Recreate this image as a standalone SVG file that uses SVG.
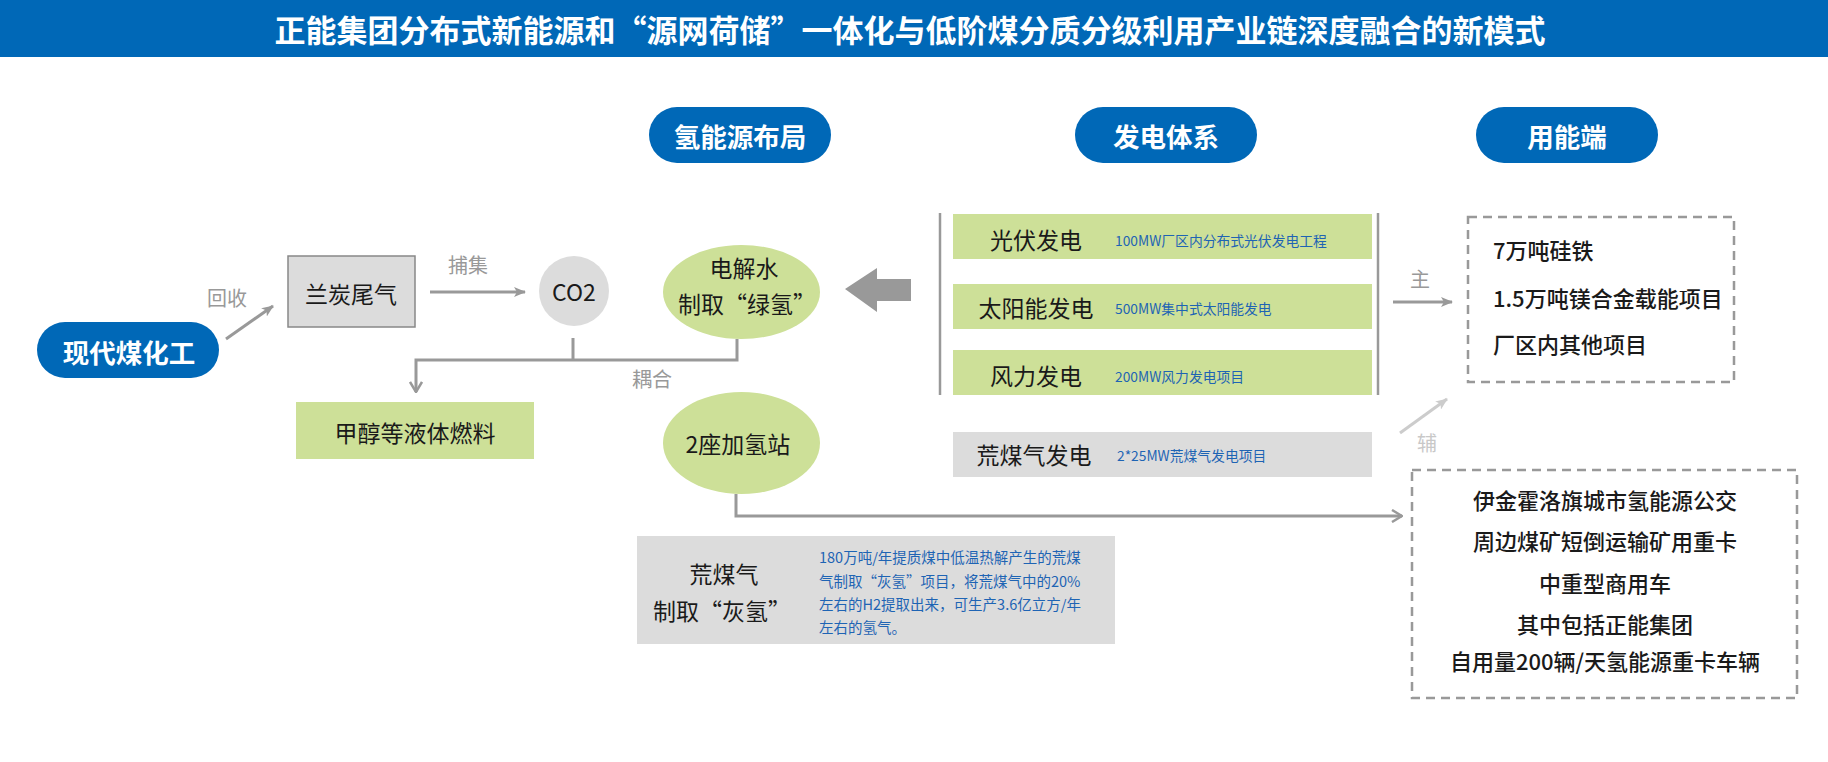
<svg xmlns="http://www.w3.org/2000/svg" width="1828" height="762" viewBox="0 0 1828 762">
<defs>
<style>
text{font-family:"Noto Sans CJK SC","Liberation Sans",sans-serif;dominant-baseline:central;}
.pill{fill:#0068b7;}
.pt{fill:#fff;font-weight:bold;font-size:26.5px;text-anchor:middle;}
.k{fill:#1a1a1a;font-size:23px;}
.c{text-anchor:middle;}
.lbl{fill:#999;font-size:20px;text-anchor:middle;}
.blue{fill:#1e64b4;font-size:13.8px;}
.bl2{fill:#1e64b4;font-size:14.5px;}
.green{fill:#cde098;}
.grey{fill:#dcdcdc;}
.ln{fill:none;stroke:#999;stroke-width:3;}
.dash{fill:none;stroke:#999;stroke-width:2.5;stroke-dasharray:9 6;}
.u{fill:#1a1a1a;font-size:22px;font-weight:500;}
</style>
<marker id="ah" viewBox="0 0 12 10" refX="11" refY="5" markerWidth="12" markerHeight="10" markerUnits="userSpaceOnUse" orient="auto"><path d="M0,0 L12,5 L0,10 L3,5 Z" fill="#999"/></marker>
<marker id="ahL" viewBox="0 0 12 10" refX="11" refY="5" markerWidth="12" markerHeight="10" markerUnits="userSpaceOnUse" orient="auto"><path d="M0,0 L12,5 L0,10 L3,5 Z" fill="#ccc"/></marker>
<marker id="ao" viewBox="0 0 12 14" refX="11" refY="7" markerWidth="12" markerHeight="14" markerUnits="userSpaceOnUse" orient="auto"><path d="M1,1 L11,7 L1,13" fill="none" stroke="#999" stroke-width="2.5"/></marker>
</defs>
<rect width="1828" height="762" fill="#fff"/>
<g id="title">
<rect x="0" y="0" width="1828" height="57" fill="#0068b7"/>
<text x="910" y="28" fill="#fff" font-size="31" font-weight="bold" text-anchor="middle">正能集团分布式新能源和“源网荷储”一体化与低阶煤分质分级利用产业链深度融合的新模式</text>
</g>
<g id="hdr-h2"><rect class="pill" x="649" y="107" width="182" height="56" rx="28"/><text class="pt" x="740" y="135">氢能源布局</text></g>
<g id="hdr-power"><rect class="pill" x="1075" y="107" width="182" height="56" rx="28"/><text class="pt" x="1166" y="135">发电体系</text></g>
<g id="hdr-use"><rect class="pill" x="1476" y="107" width="182" height="56" rx="28"/><text class="pt" x="1567" y="135">用能端</text></g>
<g id="coal-chem"><rect class="pill" x="37" y="322" width="182" height="56" rx="28"/><text class="pt" x="129" y="351" font-size="27">现代煤化工</text></g>
<g id="lantan"><rect x="288" y="256" width="127" height="71" fill="#dcdcdc" stroke="#888" stroke-width="1.5"/><text class="k c" x="351" y="293">兰炭尾气</text></g>
<g id="co2"><circle cx="574" cy="291" r="35" fill="#dcdcdc"/><text class="k c" x="574" y="291" font-size="22">CO2</text></g>
<g id="electrolysis"><ellipse class="green" cx="741.5" cy="292" rx="78.5" ry="47"/><text class="k c" x="744" y="267">电解水</text><text class="k c" x="747" y="303">制取“绿氢”</text></g>
<g id="methanol"><rect class="green" x="296" y="402" width="238" height="57"/><text class="k c" x="415" y="432">甲醇等液体燃料</text></g>
<g id="station"><ellipse class="green" cx="741.5" cy="443" rx="78.5" ry="51"/><text class="k c" x="738" y="443">2座加氢站</text></g>
<g id="grey-h2"><rect class="grey" x="637" y="536" width="478" height="108"/>
<text class="k c" x="724" y="573">荒煤气</text><text class="k c" x="722" y="610">制取“灰氢”</text>
<text class="bl2" x="819" y="556">180万吨/年提质煤中低温热解产生的荒煤</text>
<text class="bl2" x="819" y="580">气制取“灰氢”项目，将荒煤气中的20%</text>
<text class="bl2" x="819" y="603">左右的H2提取出来，可生产3.6亿立方/年</text>
<text class="bl2" x="819" y="626">左右的氢气。</text>
</g>
<g id="power-frame"><line x1="940" y1="213" x2="940" y2="395" stroke="#999" stroke-width="2.5"/><line x1="1378" y1="213" x2="1378" y2="395" stroke="#999" stroke-width="2.5"/></g>
<g id="pv"><rect class="green" x="953" y="214" width="419" height="45"/><text class="k c" x="1036" y="239">光伏发电</text><text class="blue" x="1115" y="240">100MW厂区内分布式光伏发电工程</text></g>
<g id="solar"><rect class="green" x="953" y="284" width="419" height="45"/><text class="k c" x="1036" y="307">太阳能发电</text><text class="blue" x="1115" y="308">500MW集中式太阳能发电</text></g>
<g id="wind"><rect class="green" x="953" y="350" width="419" height="45"/><text class="k c" x="1036" y="375">风力发电</text><text class="blue" x="1115" y="376">200MW风力发电项目</text></g>
<g id="coalgas-power"><rect class="grey" x="953" y="432" width="419" height="45"/><text class="k c" x="1034" y="454">荒煤气发电</text><text class="blue" x="1117" y="455">2*25MW荒煤气发电项目</text></g>
<g id="use-main"><rect class="dash" x="1468" y="217" width="266" height="165"/>
<text class="u" x="1493" y="249">7万吨硅铁</text>
<text class="u" x="1493" y="297">1.5万吨镁合金载能项目</text>
<text class="u" x="1493" y="343">厂区内其他项目</text></g>
<g id="use-aux"><rect class="dash" x="1412" y="470" width="385" height="228"/>
<text class="u c" x="1605" y="499">伊金霍洛旗城市氢能源公交</text>
<text class="u c" x="1605" y="540">周边煤矿短倒运输矿用重卡</text>
<text class="u c" x="1605" y="582">中重型商用车</text>
<text class="u c" x="1605" y="623">其中包括正能集团</text>
<text class="u c" x="1605" y="660">自用量200辆/天氢能源重卡车辆</text></g>
<g id="connectors">
<line class="ln" x1="226" y1="339" x2="273" y2="306" marker-end="url(#ah)"/>
<text class="lbl" x="227" y="297">回收</text>
<line class="ln" x1="430" y1="292" x2="525" y2="292" marker-end="url(#ah)"/>
<text class="lbl" x="468" y="264">捕集</text>
<polyline class="ln" points="573,338 573,360"/>
<polyline class="ln" points="737,339 737,360 416,360 416,392" marker-end="url(#ao)"/>
<text class="lbl" x="652" y="378">耦合</text>
<polygon points="845,289 877,268 877,279 911,279 911,301 877,301 877,312" fill="#999"/>
<polyline class="ln" points="736,494 736,516 1402,516" marker-end="url(#ao)"/>
<line class="ln" x1="1393" y1="302" x2="1452" y2="302" marker-end="url(#ah)"/>
<text class="lbl" x="1420" y="278">主</text>
<line x1="1400" y1="433" x2="1447" y2="399" stroke="#ccc" stroke-width="3" marker-end="url(#ahL)"/>
<text class="lbl" x="1427" y="442" style="fill:#c8c8c8">辅</text>
</g>
</svg>
